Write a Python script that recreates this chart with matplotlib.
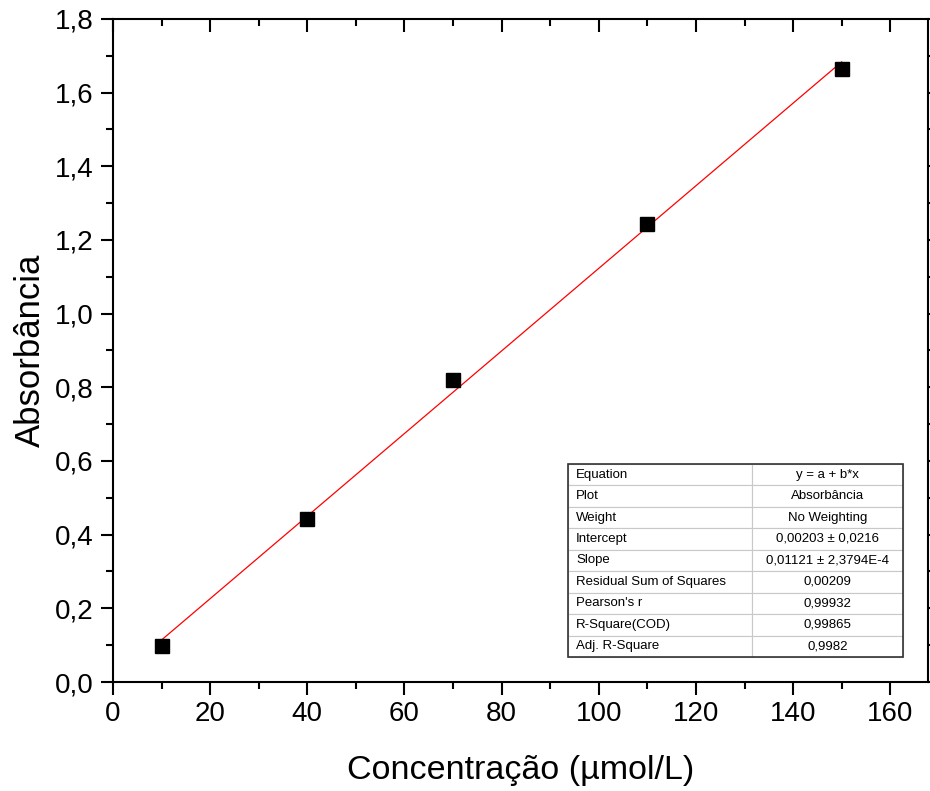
import numpy as np
import matplotlib.pyplot as plt
from matplotlib.ticker import MultipleLocator, FuncFormatter
from matplotlib.patches import Rectangle

# --- dados ---
concentracao = [10, 40, 70, 110, 150]
absorbancia = [0.097, 0.443, 0.820, 1.243, 1.664]

# ajuste linear (valores do relatório)
intercepto = 0.00203
inclinacao = 0.01121

tabela_nomes = ["Equation", "Plot", "Weight", "Intercept", "Slope",
                "Residual Sum of Squares", "Pearson's r",
                "R-Square(COD)", "Adj. R-Square"]
tabela_valores = ["y = a + b*x", "Absorbância", "No Weighting",
                  "0,00203 ± 0,0216", "0,01121 ± 2,3794E-4",
                  "0,00209", "0,99932", "0,99865", "0,9982"]

plt.rcParams["font.family"] = ["Liberation Sans", "DejaVu Sans"]

fig = plt.figure(figsize=(9.3, 7.91), dpi=100)
ax = fig.add_axes([0.1215, 0.1378, 0.998 - 0.1215, 0.976 - 0.1378])

# linha de ajuste
x_fit = np.array([concentracao[0], concentracao[-1]])
ax.plot(x_fit, intercepto + inclinacao * x_fit, color="red", lw=0.9, zorder=2)

# pontos experimentais
ax.plot(concentracao, absorbancia, linestyle="", marker="s", markersize=9.5,
        color="black", zorder=3)

ax.set_xlim(0, 167.8)
ax.set_ylim(0, 1.8)
ax.xaxis.set_major_locator(MultipleLocator(20))
ax.xaxis.set_minor_locator(MultipleLocator(10))
ax.yaxis.set_major_locator(MultipleLocator(0.2))
ax.yaxis.set_minor_locator(MultipleLocator(0.1))
ax.yaxis.set_major_formatter(FuncFormatter(lambda v, p: f"{v:.1f}".replace(".", ",")))
ax.xaxis.set_major_formatter(FuncFormatter(lambda v, p: f"{v:.0f}"))

for s in ax.spines.values():
    s.set_linewidth(1.5)

ax.tick_params(which="both", direction="out", width=1.5, labelsize=20, pad=5)
ax.tick_params(which="major", length=9)
ax.tick_params(which="minor", length=5)
ax.tick_params(which="both", top=True, right=True)

# ticks internos no topo e à direita
for t in ax.xaxis.get_major_ticks() + ax.xaxis.get_minor_ticks():
    t.tick2line.set_marker(3)
for t in ax.yaxis.get_major_ticks() + ax.yaxis.get_minor_ticks():
    t.tick2line.set_marker(1)

ax.set_xlabel("Concentração (µmol/L)", fontsize=24.5, labelpad=20)
ax.set_ylabel("Absorbância", fontsize=25, labelpad=6)

# tabela do ajuste
tab = ax.table(cellText=[[n, v] for n, v in zip(tabela_nomes, tabela_valores)],
               bbox=[0.558, 0.0377, 0.969 - 0.558, 0.329 - 0.0377],
               colWidths=[0.55, 0.45], zorder=4)
tab.auto_set_font_size(False)
for (r, c), cell in tab.get_celld().items():
    cell.set_edgecolor("#c8c8c8")
    cell.set_linewidth(0.8)
    cell.set_facecolor("white")
    cell.get_text().set_fontsize(9.5)
    if c == 0:
        cell.get_text().set_ha("left")
        cell.PAD = 0.045
    else:
        cell.get_text().set_ha("center")
ax.add_patch(Rectangle((0.558, 0.0377), 0.969 - 0.558, 0.329 - 0.0377,
                       transform=ax.transAxes, fill=False, edgecolor="#333333",
                       lw=1.2, zorder=5))

fig.savefig("out.png", dpi=100)
